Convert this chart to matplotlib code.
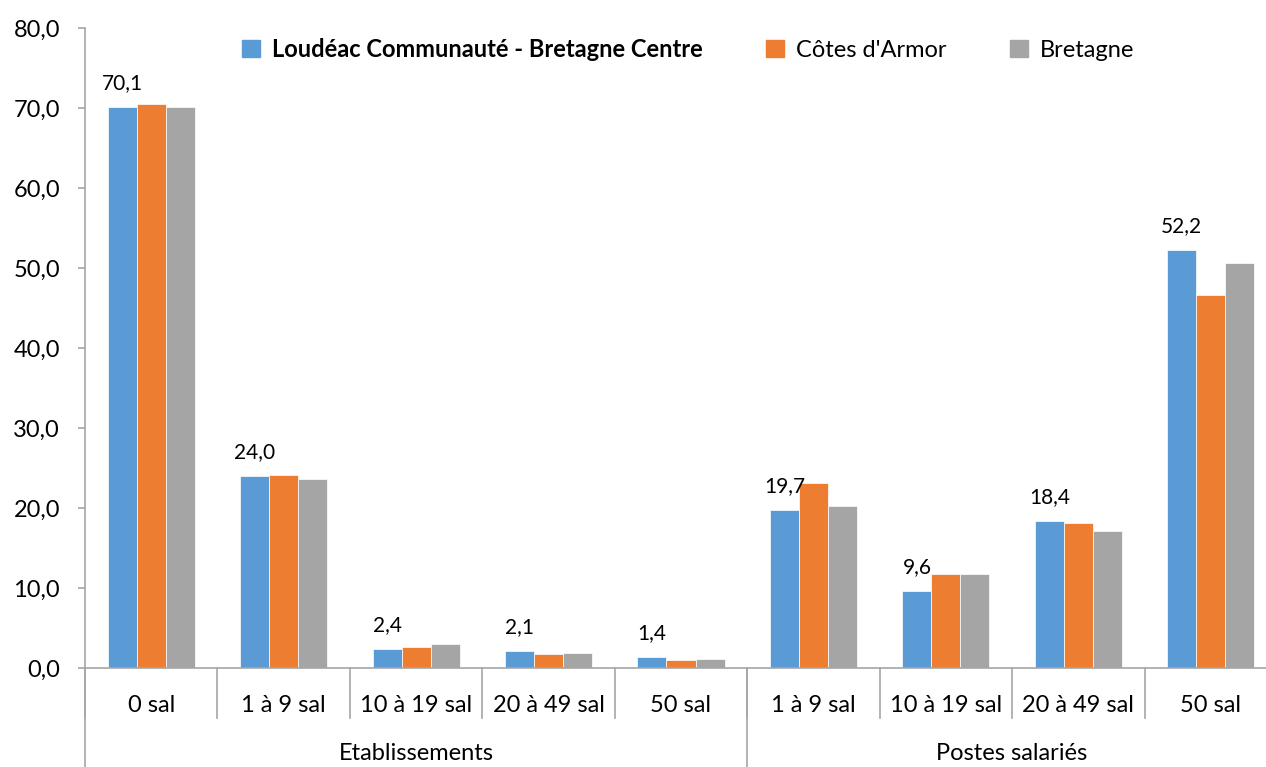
import matplotlib.pyplot as plt
import matplotlib.transforms as mtransforms
from matplotlib.patches import Patch
import numpy as np

plt.rcParams['font.family'] = ['Lato', 'DejaVu Sans']
plt.rcParams['font.size'] = 17

categories = ["0 sal", "1 à 9 sal", "10 à 19 sal", "20 à 49 sal", "50 sal",
              "1 à 9 sal", "10 à 19 sal", "20 à 49 sal", "50 sal"]
groups = ["Etablissements", "Postes salariés"]
group_sizes = [5, 4]

series_names = ["Loudéac Communauté - Bretagne Centre", "Côtes d'Armor", "Bretagne"]
loudeac = [70.1, 24.0, 2.4, 2.1, 1.4, 19.7, 9.6, 18.4, 52.2]
cotes = [70.5, 24.1, 2.6, 1.7, 1.0, 23.1, 11.8, 18.1, 46.6]
bretagne = [70.1, 23.6, 3.0, 1.9, 1.1, 20.3, 11.7, 17.1, 50.6]
colors = ["#5B9BD5", "#ED7D31", "#A5A5A5"]
axis_color = "#A6A6A6"

W, H = 1266, 767
fig = plt.figure(figsize=(W / 100, H / 100), dpi=100)
ax = fig.add_axes([85 / W, (H - 668) / H, 1192 / W, 640 / H])

x = np.arange(len(categories))
bw = 0.219
for k, vals in enumerate([loudeac, cotes, bretagne]):
    ax.bar(x + (k - 1) * bw, vals, width=bw, color=colors[k],
           edgecolor="white", linewidth=0.5, zorder=2)

for xi, v in zip(x - bw, loudeac):
    ax.annotate(f"{v:.1f}".replace(".", ","), (xi, v), xytext=(0, 10),
                textcoords="offset points", ha="center", va="bottom", fontsize=15)

ax.set_xlim(-0.5, len(categories) - 0.5)
ax.set_ylim(0, 80)
ax.set_yticks(np.arange(0, 81, 10))
ax.set_yticklabels([f"{t:.1f}".replace(".", ",") for t in np.arange(0, 81, 10)])
ax.set_xticks([])

for s in ["top", "right"]:
    ax.spines[s].set_visible(False)
for s in ["left", "bottom"]:
    ax.spines[s].set_color(axis_color)
    ax.spines[s].set_linewidth(1.2)
ax.tick_params(axis="y", length=5, color=axis_color, width=1.2, pad=13)

trans = mtransforms.blended_transform_factory(ax.transData, ax.transAxes)
# category separators and labels
for i in range(len(categories)):
    ax.plot([i - 0.5, i - 0.5], [0, -50 / 640], transform=trans, color=axis_color,
            lw=1.2, clip_on=False)
    ax.text(i, -37 / 640, categories[i], transform=trans, ha="center", va="center")
# group separators and labels
start = 0
for g, n in zip(groups, group_sizes):
    ax.plot([start - 0.5, start - 0.5], [0, -100 / 640], transform=trans,
            color=axis_color, lw=1.2, clip_on=False)
    ax.text(start + (n - 1) / 2, -86 / 640, g, transform=trans, ha="center", va="center")
    start += n

handles = [Patch(color=c) for c in colors]
leg = ax.legend(handles, series_names, ncol=3, frameon=False, loc="upper center",
                bbox_to_anchor=(0.506, 1.018), handlelength=0.75, handleheight=0.75,
                handletextpad=0.5, columnspacing=2.7)
leg.get_texts()[0].set_fontweight("bold")

fig.savefig("out.png", dpi=100)
